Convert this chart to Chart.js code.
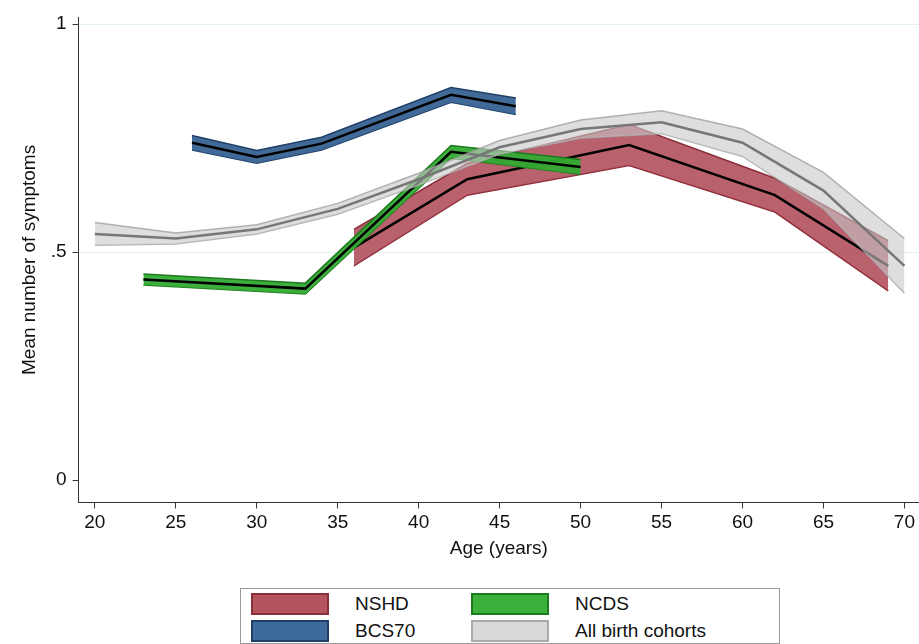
<!DOCTYPE html>
<html><head><meta charset="utf-8">
<script src="https://cdn.jsdelivr.net/npm/chart.js@4"></script>
<style>
body{margin:0;background:#fff;font-family:"Liberation Sans",Arial,sans-serif;}
#wrap{position:relative;width:919px;height:560px;}
#legend{position:absolute;left:240px;top:588px;width:540px;height:56px;border:1px solid #999;box-sizing:border-box;}
.it{position:absolute;font-size:19px;color:#111;display:flex;align-items:center;}
.sw{width:78px;height:22px;margin-right:26px;box-sizing:border-box;border:2px solid;}
</style></head><body>
<div id="wrap"><canvas id="c"></canvas></div>
<div id="legend">
 <div class="it" style="left:10px;top:4px"><div class="sw" style="background:#b5535f;border-color:#8a2e3a"></div>NSHD</div>
 <div class="it" style="left:230px;top:4px"><div class="sw" style="background:#3bb03b;border-color:#1e7a1e"></div>NCDS</div>
 <div class="it" style="left:10px;top:31px"><div class="sw" style="background:#3e6a9c;border-color:#1f3f66"></div>BCS70</div>
 <div class="it" style="left:230px;top:31px"><div class="sw" style="background:#d9d9d9;border-color:#aaa"></div>All birth cohorts</div>
</div>
<script>
const nshdAge = [36, 43, 53, 62, 69];
const nshdMean = [0.51, 0.66, 0.735, 0.625, 0.47];
const nshdHalf = [0.04, 0.035, 0.045, 0.037, 0.055];

const bcsAge = [26, 30, 34, 42, 46];
const bcsMean = [0.74, 0.709, 0.738, 0.845, 0.82];
const bcsHalf = [0.016, 0.014, 0.014, 0.016, 0.018];

const ncdsAge = [23, 33, 42, 50];
const ncdsMean = [0.44, 0.42, 0.72, 0.687];
const ncdsHalf = [0.012, 0.012, 0.014, 0.016];

const allAge = [20, 25, 30, 35, 40, 45, 50, 55, 60, 65, 70];
const allMean = [0.54, 0.53, 0.55, 0.595, 0.66, 0.73, 0.77, 0.785, 0.74, 0.635, 0.47];
const allHalf = [0.025, 0.012, 0.01, 0.012, 0.013, 0.015, 0.02, 0.025, 0.03, 0.04, 0.06];

const xTicks = [20, 25, 30, 35, 40, 45, 50, 55, 60, 65, 70];
const yTicks = [0, 0.5, 1];

function pts(ages, vals, half, sign) {
  return ages.map((a, i) => ({x: a, y: vals[i] + sign * half[i]}));
}
function band(ages, vals, half, fill, edge, line, lineW, ord) {
  return [
    {data: pts(ages, vals, half, 1), fill: '+1', backgroundColor: fill, borderColor: edge, borderWidth: 1.5, pointRadius: 0, tension: 0, order: ord},
    {data: pts(ages, vals, half, -1), fill: false, borderColor: edge, borderWidth: 1.5, pointRadius: 0, tension: 0, order: ord},
    {data: pts(ages, vals, half, 0), fill: false, borderColor: line, borderWidth: lineW, pointRadius: 0, tension: 0, order: ord - 0.5}
  ];
}

const datasets = [
  ...band(nshdAge, nshdMean, nshdHalf, 'rgba(168,58,72,0.8)', '#8a2e3a', '#000', 2.5, 10),
  ...band(bcsAge, bcsMean, bcsHalf, 'rgba(55,98,148,0.95)', '#1f3f66', '#000', 2.5, 8),
  ...band(ncdsAge, ncdsMean, ncdsHalf, 'rgba(50,170,50,0.95)', '#1e7a1e', '#000', 2.5, 6),
  ...band(allAge, allMean, allHalf, 'rgba(200,200,200,0.6)', 'rgba(160,160,160,0.8)', '#777', 2.5, 4)
];

new Chart(document.getElementById('c'), {
  type: 'line',
  data: {datasets},
  options: {
    responsive: true, maintainAspectRatio: false, animation: false,
    layout: {padding: {top: 0, right: 0, left: 14}},
    plugins: {legend: {display: false}, tooltip: {enabled: false}},
    scales: {
      x: {type: 'linear', min: 19, max: 70.9,
        afterBuildTicks: s => { s.ticks = xTicks.map(v => ({value: v})); },
        grid: {display: true, drawOnChartArea: false, drawTicks: true, tickLength: 6, color: '#333'},
        border: {color: '#333'},
        ticks: {color: '#111', font: {size: 19, family: 'Liberation Sans'}},
        title: {display: true, text: 'Age (years)', color: '#111', font: {size: 19, family: 'Liberation Sans'}, padding: 0}
      },
      y: {min: -0.049, max: 1.015,
        afterBuildTicks: s => { s.ticks = yTicks.map(v => ({value: v})); },
        grid: {color: v => v.tick && v.tick.value > 0 ? '#e3f0f0' : 'rgba(0,0,0,0)', drawTicks: true, tickLength: 6, tickColor: '#333'},
        border: {color: '#333'},
        ticks: {color: '#111', padding: 6, font: {size: 19, family: 'Liberation Sans'},
          callback: v => v === 0.5 ? '.5' : String(v)},
        title: {display: true, text: 'Mean number of symptoms', color: '#111', font: {size: 19, family: 'Liberation Sans'}}
      }
    }
  }
});
</script>
</body></html>
